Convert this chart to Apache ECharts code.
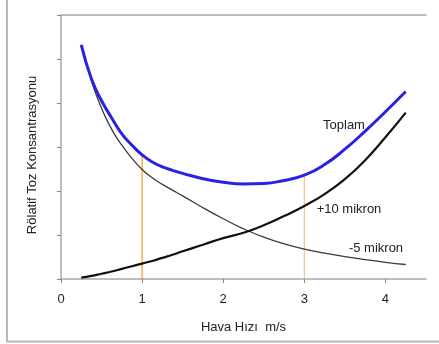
<!DOCTYPE html>
<html>
<head>
<meta charset="utf-8">
<script src="https://cdn.jsdelivr.net/npm/echarts@6/dist/echarts.min.js"></script>
<style>
  html, body { margin: 0; padding: 0; background: #fff; }
  #chart { width: 439px; height: 344px; }
</style>
</head>
<body>
<div id="chart"></div>
<script>
// hava hızı (m/s)
var hiz = [0.25, 0.375, 0.5, 0.625, 0.75, 0.875, 1.0, 1.125, 1.25, 1.375, 1.5, 1.75, 2.0, 2.25, 2.5, 2.75, 3.0, 3.25, 3.5, 3.75, 4.0, 4.25];
// konsantrasyon egrileri
var toplam = [5.32, 4.55, 4.05, 3.66, 3.30, 3.04, 2.82, 2.66, 2.55, 2.47, 2.40, 2.28, 2.20, 2.16, 2.17, 2.24, 2.36, 2.60, 2.95, 3.36, 3.80, 4.26];
var eksi5 = [5.32, 4.50, 3.88, 3.40, 3.04, 2.74, 2.49, 2.30, 2.15, 2.02, 1.89, 1.62, 1.37, 1.14, 0.95, 0.80, 0.68, 0.59, 0.51, 0.44, 0.38, 0.33];
var arti10 = [0.03, 0.07, 0.12, 0.17, 0.23, 0.29, 0.35, 0.41, 0.48, 0.55, 0.63, 0.78, 0.93, 1.05, 1.22, 1.43, 1.66, 1.93, 2.27, 2.70, 3.22, 3.78];
// dikey turuncu cizgiler
var kilavuzX = [1, 3];
var kilavuzUst = [2.82, 2.36];
var xEtiketler = [0, 1, 2, 3, 4];

var font = 'Liberation Sans, Arial, sans-serif';
var fs = 13;

function pairs(xs, ys) {
    return xs.map(function (x, i) { return [x, ys[i]]; });
}

var chart = echarts.init(document.getElementById('chart'));

var series = [
    {
        name: '-5 mikron', type: 'line', smooth: true, symbol: 'none',
        data: pairs(hiz, eksi5),
        lineStyle: { color: '#3a3a3a', width: 1.3 }, z: 3
    },
    {
        name: '+10 mikron', type: 'line', smooth: true, symbol: 'none',
        data: pairs(hiz, arti10),
        lineStyle: { color: '#111', width: 2.2 }, z: 3
    },
    {
        name: 'Toplam', type: 'line', smooth: true, symbol: 'none',
        data: pairs(hiz, toplam),
        lineStyle: { color: '#2a22e0', width: 3 }, z: 4
    }
];

kilavuzX.forEach(function (x, i) {
    series.push({
        type: 'line', symbol: 'none', silent: true,
        data: [[x, 0], [x, kilavuzUst[i]]],
        lineStyle: { color: i === 0 ? '#f5a22c' : '#f9c48a', width: 1.3 }, z: 2
    });
});

var option = {
    animation: false,
    textStyle: { fontFamily: font },
    grid: { left: 61, top: 15, width: 365, height: 264 },
    xAxis: [
        {
            type: 'value', min: 0, max: 4.5,
            name: 'Hava Hızı  m/s', nameLocation: 'middle', nameGap: 42,
            nameTextStyle: { fontSize: fs, color: '#222', fontFamily: font },
            axisLine: { show: true, lineStyle: { color: '#a8a8a8', width: 1.5 } },
            axisTick: { show: true, length: 4, customValues: xEtiketler, lineStyle: { color: '#888' } },
            axisLabel: { customValues: xEtiketler, fontSize: fs, color: '#222', margin: 14, fontFamily: font },
            splitLine: { show: false }
        },
        {
            type: 'value', min: 0, max: 4.5, position: 'top',
            axisLine: { show: true, lineStyle: { color: '#a8a8a8', width: 1.5 } },
            axisTick: { show: false }, axisLabel: { show: false }, splitLine: { show: false }
        }
    ],
    yAxis: {
        type: 'value', min: 0, max: 6, interval: 1,
        axisLine: { show: true, lineStyle: { color: '#a8a8a8', width: 1.5 } },
        axisTick: { show: true, length: 4, lineStyle: { color: '#888' } },
        axisLabel: { show: false },
        splitLine: { show: false }
    },
    series: series,
    graphic: [
        { type: 'line', shape: { x1: 7, y1: 0, x2: 7, y2: 342 }, style: { stroke: '#b8b8b8', lineWidth: 2 } },
        { type: 'line', shape: { x1: 6, y1: 341.5, x2: 439, y2: 341.5 }, style: { stroke: '#b8b8b8', lineWidth: 2 } },
        {
            type: 'text', x: 32, y: 155, rotation: Math.PI / 2,
            style: { text: 'Rölatif Toz Konsantrasyonu', fill: '#222', font: fs + 'px ' + font, align: 'center', verticalAlign: 'middle' }
        },
        {
            type: 'text', x: 344, y: 125,
            style: { text: 'Toplam', fill: '#222', font: fs + 'px ' + font, align: 'center', verticalAlign: 'middle' }
        },
        {
            type: 'text', x: 349, y: 209,
            style: { text: '+10 mikron', fill: '#222', font: fs + 'px ' + font, align: 'center', verticalAlign: 'middle' }
        },
        {
            type: 'text', x: 376, y: 248,
            style: { text: '-5 mikron', fill: '#222', font: fs + 'px ' + font, align: 'center', verticalAlign: 'middle' }
        }
    ]
};

chart.setOption(option);
</script>
</body>
</html>
